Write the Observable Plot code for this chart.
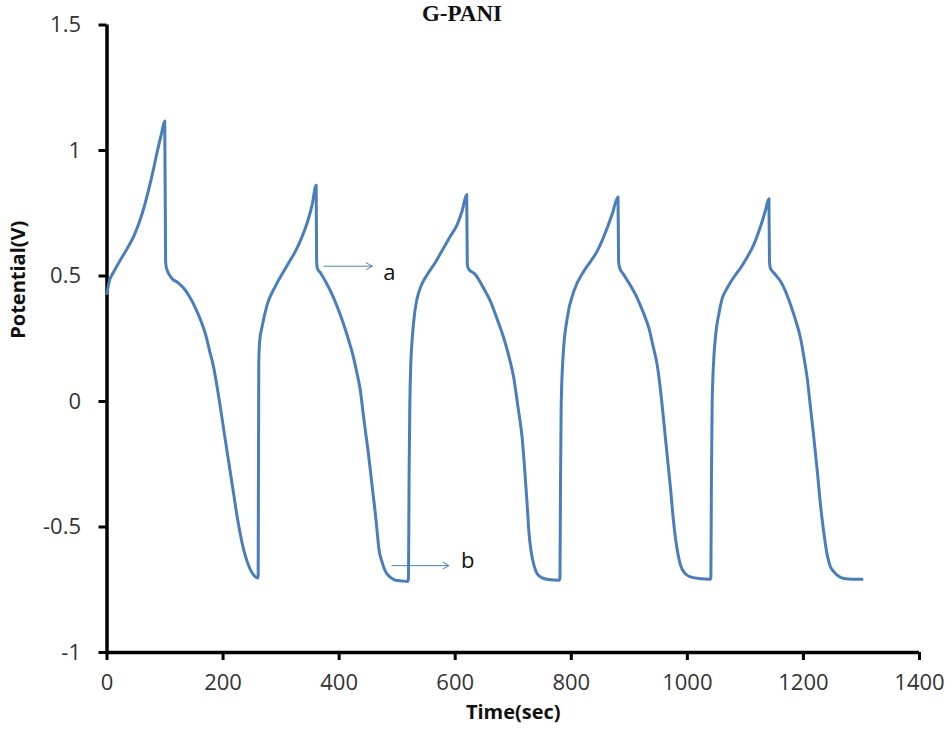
<!DOCTYPE html>
<html><head><meta charset="utf-8">
<script src="https://cdn.jsdelivr.net/npm/d3@7"></script>
<script src="https://cdn.jsdelivr.net/npm/@observablehq/plot@0.6"></script>
<style>
body{margin:0;background:#fff;}
#wrap{position:relative;width:951px;height:738px;}
#title{position:absolute;left:462px;top:1px;transform:translateX(-50%);font-family:"Liberation Serif",serif;font-weight:bold;font-size:23px;color:#111;white-space:nowrap;}
</style></head><body>
<div id="wrap"><div id="title">G-PANI</div><div id="chart"></div></div>
<script>
const time = [
 0,4,10,22,35,46,55,64,72,80,86.5,93,99.5,101,102.5,112,122,132,142,152.5,162,170,177,184,190,195.6,201,207,213,218.5,224,230,236,241.6,247,253,260,260.5,261.5,263,267.4,276,290,
 304.6,315,324.8,334,342,348,353.6,360.4,361.2,362.5,368,378,388,398,408,417,425,431,436.8,441,445.4,450,454,458,462.6,466,468.4,474,480,488,497,508,518.5,519.5,520.5,521.8,523.5,526,530,534.5,542,551.7,566,580,592,603.4,612,619.8,
 620.8,622.5,635,648,660.8,672,683.7,693,701,708,715.4,720,724,727,731,736,741,750,760,779.5,780.5,781.5,782.6,786,793,804.4,821.6,833,844.6,853,862,871,880.5,
 881.5,883,890.5,902,913.6,924,933.6,941,948,954,959.4,965,971,975,979.6,984,988.2,996,1005.4,1020,1039.5,1040.5,1041.5,1042.7,1045.6,1049,1054,1060,1068.6,1080,1091.6,1103,1114.5,1122,1129,1135,1140.5,
 1141.5,1143,1150,1160.5,1169,1177.7,1187,1195,1201,1206.5,1212,1218,1224,1229.4,1235,1241,1246,1252.3,1260,1269.6,1285,1301
];
const potential = [
 0.43,0.48,0.51,0.56,0.61,0.658,0.71,0.775,0.846,0.925,0.995,1.058,1.118,0.56,0.53,0.49,0.474,0.452,0.418,0.372,0.32,0.266,0.2,0.133,0.055,-0.027,-0.11,-0.2,-0.29,-0.372,-0.455,-0.532,-0.595,-0.638,-0.67,-0.692,-0.703,-0.69,0.15,0.24,0.3,0.386,0.459,
 0.519,0.56,0.599,0.645,0.692,0.735,0.785,0.862,0.56,0.53,0.512,0.472,0.426,0.37,0.306,0.24,0.173,0.11,0.04,-0.04,-0.12,-0.2,-0.279,-0.36,-0.452,-0.53,-0.585,-0.64,-0.678,-0.7,-0.712,-0.715,-0.717,-0.7,-0.3,-0.013,0.15,0.253,0.35,0.412,0.465,0.505,0.555,0.612,0.66,0.705,0.76,0.825,
 0.55,0.53,0.505,0.455,0.399,0.33,0.253,0.175,0.093,-0.02,-0.146,-0.28,-0.412,-0.52,-0.6,-0.655,-0.685,-0.703,-0.709,-0.712,-0.7,-0.3,-0.013,0.186,0.332,0.439,0.519,0.557,0.599,0.64,0.692,0.75,0.815,
 0.56,0.535,0.505,0.462,0.412,0.355,0.293,0.22,0.146,0.04,-0.08,-0.21,-0.346,-0.45,-0.546,-0.61,-0.652,-0.685,-0.699,-0.705,-0.708,-0.7,-0.3,-0.013,0.173,0.27,0.346,0.41,0.452,0.495,0.532,0.575,0.625,0.67,0.718,0.765,0.808,
 0.56,0.532,0.51,0.479,0.44,0.386,0.32,0.253,0.175,0.093,-0.02,-0.146,-0.28,-0.412,-0.52,-0.612,-0.655,-0.678,-0.695,-0.705,-0.708,-0.708
];
const xTicks = [0,200,400,600,800,1000,1200,1400];
const yTicks = [-1,-0.5,0,0.5,1,1.5];
const xTitle = "Time(sec)";
const yTitle = "Potential(V)";
const annotLabels = ["a","b"];
const arrowX1 = [374, 491];
const arrowX2 = [457, 589];
const arrowY = [0.539, -0.654];
const labelX = [476, 610];
const labelY = [0.512, -0.636];

const series = time.map((t,i)=>({t, v: potential[i]}));
const annots = annotLabels.map((l,i)=>({l, x1: arrowX1[i], x2: arrowX2[i], y: arrowY[i], lx: labelX[i], ly: labelY[i]}));

const blue = "#4A7EBB";
const chart = Plot.plot({
  width: 951, height: 738,
  marginTop: 24.5, marginRight: 32, marginBottom: 86, marginLeft: 106.5,
  style: {fontFamily: "'Open Sans', sans-serif", fontSize: "22px", color: "#333", background: "#fff"},
  x: {domain: [0,1400]},
  y: {domain: [-1,1.5]},
  marks: [
    Plot.axisX({ticks: xTicks, tickSize: 8, tickPadding: 14, strokeWidth: 3, stroke: "black", fill: "#333", fontSize: 22, label: null, tickFormat: d => String(d)}),
    Plot.axisY({ticks: yTicks, tickSize: 8, tickPadding: 18, strokeWidth: 3, stroke: "black", fill: "#333", fontSize: 22, label: null, tickFormat: d => String(d)}),
    Plot.ruleY([-1], {stroke: "black", strokeWidth: 3.5}),
    Plot.ruleX([0], {stroke: "black", strokeWidth: 3.5}),
    Plot.line(series, {x: "t", y: "v", stroke: blue, strokeWidth: 3, curve: "monotone-x"}),
    Plot.arrow(annots, {x1: "x1", x2: "x2", y1: "y", y2: "y", stroke: blue, strokeWidth: 1, headLength: 10, bend: 0}),
    Plot.text(annots, {x: "lx", y: "ly", text: "l", textAnchor: "start", fill: "#111", fontSize: 22}),
    Plot.text([xTitle], {frameAnchor: "bottom", dy: 66, fontWeight: "bold", fontSize: 20, fill: "#111"}),
    Plot.text([yTitle], {frameAnchor: "left", dx: -88, rotate: -90, fontWeight: "bold", fontSize: 20, fill: "#111"})
  ]
});
document.getElementById("chart").appendChild(chart);
</script>
</body></html>
